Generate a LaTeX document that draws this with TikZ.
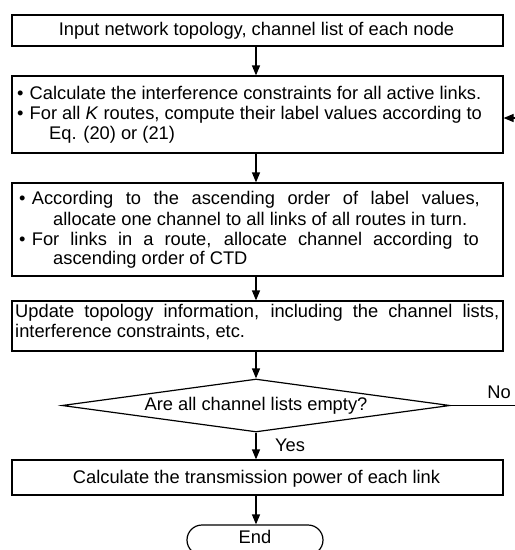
\documentclass[tikz,border=0pt]{standalone}
\usepackage{fontspec}
\setmainfont{Liberation Sans}
\usetikzlibrary{arrows.meta,shapes.geometric,shapes.misc}
\newcommand{\fcbul}{\makebox[12.7pt][l]{\textbullet}}
\begin{document}
\begin{tikzpicture}[x=1pt,y=-1pt,
  font=\fontsize{18.3}{20}\selectfont,
  box/.style={draw, line width=1.2pt, rectangle, inner sep=0pt, minimum width=491pt},
  txt/.style={inner sep=0pt, anchor=base west},
  ctxt/.style={inner sep=0pt, anchor=base},
  arr/.style={line width=1.2pt, -{Triangle[length=10pt,width=8pt]}},
  plain/.style={line width=1.2pt}]
\useasboundingbox (0,0) rectangle (515,550);
\clip (0,0) rectangle (515,550);

% boxes
\node[box, minimum height=31pt] (b1) at (257.5,30.5) {};
\node[box, minimum height=77pt] (b2) at (257.5,114.5) {};
\node[box, minimum height=93pt] (b3) at (257.5,229.5) {};
\node[box, minimum height=50pt] (b4) at (257.5,326) {};
\node[draw, line width=1.2pt, diamond, inner sep=0pt, minimum width=388pt, minimum height=53pt] (d) at (256,405.5) {};
\node[box, minimum height=35pt] (b5) at (257.5,477.5) {};
\node[draw, line width=1.2pt, rounded rectangle, inner sep=0pt, minimum width=136pt, minimum height=30pt] (end) at (255,540) {};

% texts
\node[ctxt] (t1) at (256.5,35) {Input network topology, channel list of each node};

\node[txt] (t2a) at (16.8,99) {\fcbul Calculate the interference constraints for all active links.};
\node[txt] (t2b) at (16.8,119) {\fcbul For all \textit{K} routes, compute their label values according to};
\node[txt] (t2c) at (49,139) {Eq. (20) or (21)};

\node[txt] (t3a) at (19,204) {\fcbul\makebox[448pt][s]{According to the ascending order of label values,}};
\node[txt] (t3b) at (53,225) {allocate one channel to all links of all routes in turn.};
\node[txt] (t3c) at (19,245) {\fcbul\makebox[447pt][s]{For links in a route, allocate channel according to}};
\node[txt] (t3d) at (53,264) {ascending order of CTD};

\node[txt] (t4a) at (15,317) {\makebox[484pt][s]{Update topology information, including the channel lists,}};
\node[txt] (t4b) at (15,337) {interference constraints, etc.};

\node[ctxt] (td) at (256,410.5) {Are all channel lists empty?};
\node[ctxt] (t5) at (256.5,483) {Calculate the transmission power of each link};
\node[ctxt] (tend) at (255,543.3) {End};

\node[ctxt] (no) at (499,398) {No};
\node[txt] (yes) at (275,451.7) {Yes};

% connectors
\draw[arr] (b1.south -| d.north) -- (b2.north -| d.north);
\draw[arr] (b2.south -| d.north) -- (b3.north -| d.north);
\draw[arr] (b3.south -| d.north) -- (b4.north -| d.north);
\draw[arr] (b4.south -| d.north) -- (d.north);
\draw[arr] (d.south) -- (b5.north -| d.south);
\draw[arr] (b5.south -| d.south) -- (end.north -| d.south);

\coordinate (lr) at (525,405.5);
\coordinate (lt) at (525,118);
\draw[arr] (d.east) -- (lr) -- (lt) -- (b2.east |- lt);
\end{tikzpicture}
\end{document}
